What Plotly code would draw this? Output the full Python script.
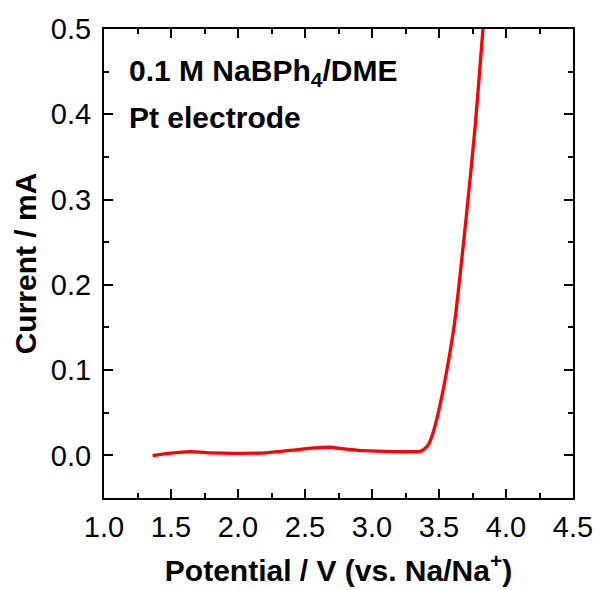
import plotly.graph_objects as go

potential = [1.363, 1.50, 1.642, 1.80, 1.965, 2.214, 2.463, 2.60, 2.687, 2.80, 2.935, 3.184, 3.30, 3.358, 3.385, 3.42, 3.458, 3.502, 3.552, 3.614, 3.697, 3.771, 3.828, 3.845]
current = [-0.0004, 0.0025, 0.0043, 0.0030, 0.0024, 0.0030, 0.0071, 0.0090, 0.0095, 0.0075, 0.0055, 0.0043, 0.0043, 0.0046, 0.0068, 0.0122, 0.0278, 0.0552, 0.0942, 0.1529, 0.270, 0.3874, 0.500, 0.53]

x_ticks = [1.0, 1.5, 2.0, 2.5, 3.0, 3.5, 4.0, 4.5]
y_ticks = [0.0, 0.1, 0.2, 0.3, 0.4, 0.5]

FONT = "Liberation Sans, Arial, sans-serif"

fig = go.Figure()
fig.add_trace(go.Scatter(x=potential, y=current, mode="lines",
                         line=dict(color="#ff0000", width=3.3, shape="spline", smoothing=0.7),
                         showlegend=False))

axis_common = dict(showline=True, linecolor="black", linewidth=2, mirror="ticks",
                   ticks="inside", ticklen=9, tickwidth=2, tickcolor="black",
                   showgrid=False, zeroline=False, automargin=False,
                   tickfont=dict(family=FONT, size=29, color="black"))

fig.update_xaxes(range=[1.0, 4.5], tickvals=x_ticks, ticktext=[f"{v:.1f}" for v in x_ticks],
                 minor=dict(ticks="inside", ticklen=5, tickwidth=2, tickcolor="black", dtick=0.25),
                 ticklabelstandoff=2,
                 title=dict(text="Potential / V (vs. Na/Na<sup>+</sup>)",
                            font=dict(family=FONT, size=30, color="black", weight="bold"), standoff=18),
                 **axis_common)
fig.update_yaxes(range=[-0.05, 0.5], tickvals=y_ticks, ticktext=[f"{v:.1f}" for v in y_ticks],
                 minor=dict(ticks="inside", ticklen=5, tickwidth=2, tickcolor="black", dtick=0.05),
                 ticklabelstandoff=5,
                 title=dict(text="Current / mA",
                            font=dict(family=FONT, size=30, color="black", weight="bold"), standoff=5),
                 **axis_common)

fig.add_annotation(xref="paper", yref="paper", x=0.05, y=0.908, xanchor="left", yanchor="middle",
                   text="<b>0.1 M NaBPh<sub>4</sub>/DME</b>", showarrow=False,
                   font=dict(family=FONT, size=30, color="black"))
fig.add_annotation(xref="paper", yref="paper", x=0.05, y=0.812, xanchor="left", yanchor="middle",
                   text="<b>Pt electrode</b>", showarrow=False,
                   font=dict(family=FONT, size=30, color="black"))

fig.update_layout(width=600, height=590, margin=dict(l=104, r=27, t=29, b=92),
                  plot_bgcolor="white", paper_bgcolor="white")

fig.write_html("out.html")
